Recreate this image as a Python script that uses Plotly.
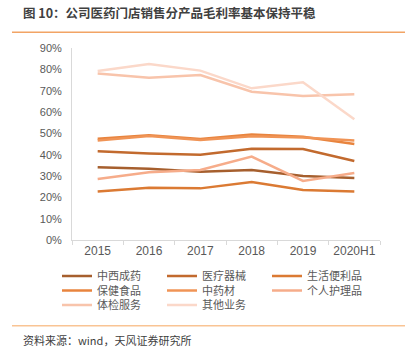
import plotly.graph_objects as go

years = ["2015", "2016", "2017", "2018", "2019", "2020H1"]
names = ["中西成药", "医疗器械", "生活便利品", "保健食品", "中药材", "个人护理品", "体检服务", "其他业务"]
zxcy = [34.1, 33.4, 32.0, 32.8, 30.0, 29.1]
ylqx = [41.6, 40.6, 40.0, 42.8, 42.7, 37.0]
shblp = [22.7, 24.5, 24.2, 27.2, 23.4, 22.7]
bjsp = [47.5, 49.1, 47.3, 49.4, 48.4, 45.0]
zyc = [46.6, 48.8, 46.9, 48.6, 48.0, 46.6]
grhlp = [28.6, 31.7, 32.8, 39.1, 27.7, 31.4]
tjfw = [78.1, 76.1, 77.3, 69.5, 67.5, 68.3]
qtyw = [79.2, 82.5, 79.4, 71.1, 73.9, 56.6]
series = [zxcy, ylqx, shblp, bjsp, zyc, grhlp, tjfw, qtyw]
colors = ["#A65F2E", "#C26A2E", "#DB7A33", "#E8843E", "#F09456", "#F6AC8A", "#F8C4AB", "#FBD8C9"]
legend_ids = ["legend", "legend", "legend", "legend2", "legend2", "legend2", "legend3", "legend3"]

W, H = 414, 356
L, R, T, B = 72, 34, 48, 116
pw, ph = W - L - R, H - T - B

def px_x(x):
    return (x - L) / pw

def px_y(y):
    return (H - B - y) / ph

fig = go.Figure()
for n, s, c, lg in zip(names, series, colors, legend_ids):
    fig.add_trace(go.Scatter(x=years, y=s, name=n, mode="lines",
                             line=dict(color=c, width=2.5), legend=lg))

font_cjk = "Noto Sans CJK SC, Liberation Sans, sans-serif"
leg_common = dict(orientation="h", xanchor="left", yanchor="middle",
                  entrywidth=60, entrywidthmode="pixels",
                  font=dict(family=font_cjk, size=11, color="#595959"),
                  bgcolor="rgba(0,0,0,0)", borderwidth=0, tracegroupgap=0,
                  itemwidth=30)
lx = px_x(57)
fig.update_layout(
    width=W, height=H,
    margin=dict(l=L, r=R, t=T, b=B),
    plot_bgcolor="white", paper_bgcolor="white",
    showlegend=True,
    legend=dict(**leg_common, x=lx, y=px_y(276)),
    legend2=dict(**leg_common, x=lx, y=px_y(290.5)),
    legend3=dict(**leg_common, x=lx, y=px_y(305)),
    xaxis=dict(type="category", range=[-0.5, 5.5], showline=True, linecolor="#D9D9D9",
               linewidth=1, ticks="outside", tickson="boundaries", ticklen=4,
               tickcolor="#D9D9D9", showgrid=False, zeroline=False, tickangle=0,
               tickfont=dict(family="Liberation Sans, Arial, sans-serif", size=12, color="#595959")),
    yaxis=dict(range=[0, 90], dtick=10, ticksuffix="%", showline=True, linecolor="#D9D9D9",
               linewidth=1, ticks="", ticklabelstandoff=7, showgrid=False, zeroline=False,
               tickfont=dict(family="Liberation Sans, Arial, sans-serif", size=11, color="#595959")),
    shapes=[
        dict(type="line", xref="paper", yref="paper", x0=px_x(12), x1=px_x(405),
             y0=px_y(32.3), y1=px_y(32.3), line=dict(color="#F2A465", width=1.5)),
        dict(type="line", xref="paper", yref="paper", x0=px_x(12), x1=px_x(405),
             y0=px_y(325.7), y1=px_y(325.7), line=dict(color="#F9C494", width=1.5)),
    ],
    annotations=[
        dict(text="<b>图 10：公司医药门店销售分产品毛利率基本保持平稳</b>", xref="paper", yref="paper",
             x=px_x(21), y=px_y(12.5), xanchor="left", yanchor="middle", showarrow=False,
             font=dict(family=font_cjk, size=12.5, color="#404040")),
        dict(text="资料来源：wind，天风证券研究所", xref="paper", yref="paper",
             x=px_x(21), y=px_y(340), xanchor="left", yanchor="middle", showarrow=False,
             font=dict(family=font_cjk, size=11, color="#404040")),
    ],
)
fig.write_html("out.html", config={"displayModeBar": False},
               post_script="document.body.style.margin='0';")
